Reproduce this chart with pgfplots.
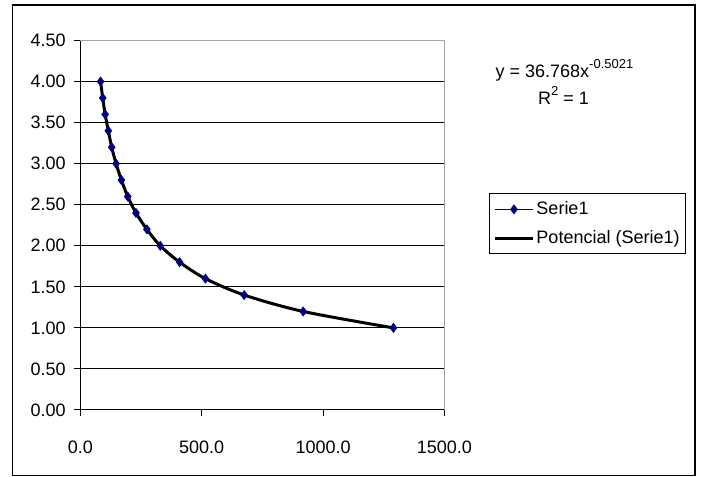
\documentclass[border=0pt]{standalone}
\usepackage{fontspec}
\setmainfont{Liberation Sans}
\usepackage{pgfplots}
\pgfplotsset{compat=1.18}
\definecolor{navy}{RGB}{0,0,128}
\pgfplotstableread{
x y
83 4.0
92 3.8
102 3.6
115 3.4
129 3.2
147 3.0
169 2.8
195 2.6
229 2.4
274 2.2
329 2.0
409 1.8
515 1.6
675 1.4
918 1.2
1290 1.0
}\datatable
\begin{document}
\fontsize{18bp}{21bp}\selectfont
\begin{tikzpicture}[x=1bp,y=1bp]
\path[use as bounding box] (0,0) rectangle (702,477);
\draw[line width=1.3bp] (12.5,1.5) rectangle (695,472);
\begin{axis}[
  at={(80.4bp,67bp)}, anchor=south west,
  scale only axis, width=364bp, height=369.5bp,
  xmin=0, xmax=1500, ymin=0, ymax=4.5,
  xtick={0,500,1000,1500},
  ytick={0,0.5,1,1.5,2,2.5,3,3.5,4,4.5},
  axis x line*=bottom, axis y line*=left,
  axis line style={black, line width=1bp},
  tick align=outside, major tick length=6bp,
  tick style={black, line width=1bp},
  ymajorgrids, grid style={black, line width=1bp},
  every tick label/.append style={font=\fontsize{18bp}{21bp}\selectfont},
  /pgf/number format/assume math mode=true,
  xticklabel style={yshift=-19bp, /pgf/number format/.cd, fixed, fixed zerofill, precision=1, 1000 sep={}},
  yticklabel style={xshift=-2.5bp, /pgf/number format/.cd, fixed, fixed zerofill, precision=2},
  legend image code/.code={\draw[mark repeat=2,mark phase=2,#1] plot coordinates {(0bp,0bp)(19bp,0bp)(38bp,0bp)};},
  legend cell align=left,
  legend style={at={(1.1225,0.5873)}, anchor=north west, draw=black, line width=1bp,
    inner xsep=4bp, inner ysep=6bp, row sep=9bp,
    font=\fontsize{18bp}{21bp}\selectfont},
  clip=false,
]
\draw[gray!70, line width=1bp] (rel axis cs:0,1) -- (rel axis cs:1,1) -- (rel axis cs:1,0);
\addplot[color=navy, line width=0.7bp, mark=diamond*, mark size=4.5bp, mark options={fill=navy}] table[x=x,y=y] {\datatable};
\addlegendentry{Serie1}
\addplot[black, line width=3bp, smooth] table[x=x,y=y] {\datatable};
\addlegendentry{Potencial (Serie1)}
\end{axis}
\node[anchor=base, inner sep=0pt] at (564.5,399) {y = 36.768x\raisebox{0.5em}{\fontsize{13bp}{13bp}\selectfont -0.5021}};
\node[anchor=base, inner sep=0pt] at (563.5,372) {R\raisebox{0.5em}{\fontsize{13bp}{13bp}\selectfont 2} = 1};
\end{tikzpicture}
\end{document}
